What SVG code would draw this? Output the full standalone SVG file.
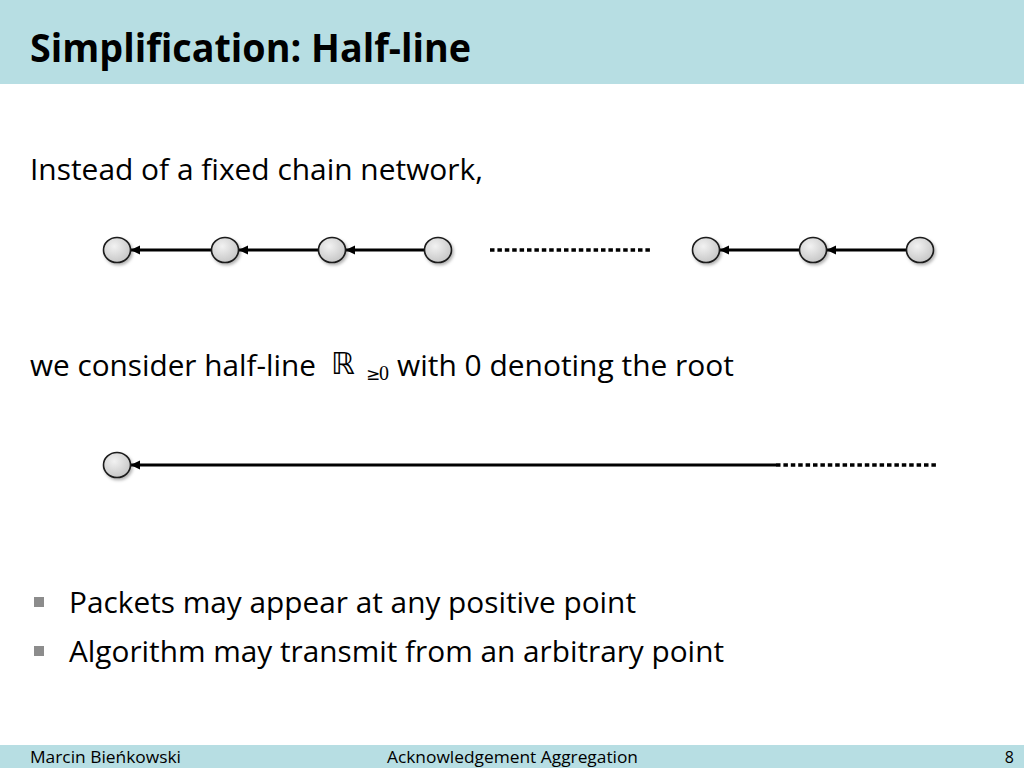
<svg xmlns="http://www.w3.org/2000/svg" width="1024" height="768" viewBox="0 0 1024 768">
<style>
.band{fill:#B7DEE3}
.title{font-family:"Open Sans","Liberation Sans",sans-serif;font-weight:bold;font-size:40px;fill:#000}
.body{font-family:"Open Sans","Liberation Sans",sans-serif;font-size:29px;fill:#000}
.foot{font-family:"Open Sans","Liberation Sans",sans-serif;font-size:16px;fill:#000}
.math{font-family:"DejaVu Sans","DejaVu Serif",serif;fill:#000}
.mathr{font-family:"Liberation Serif","DejaVu Serif",serif;fill:#000}
.node{fill:url(#g);stroke:#1a1a1a;stroke-width:1.6;filter:url(#sh)}
.edge{stroke:#000;stroke-width:3;fill:none;marker-end:url(#ah)}
.dots{stroke:#000;stroke-width:3.5;stroke-dasharray:4.5 2.9;fill:none}
.bullet{fill:#8c8c8c}
</style>
<defs>
<radialGradient id="g" cx="0.4" cy="0.35" r="0.7">
<stop offset="0" stop-color="#f2f2f2"/>
<stop offset="1" stop-color="#c4c4c4"/>
</radialGradient>
<filter id="sh" x="-30%" y="-30%" width="170%" height="170%">
<feDropShadow dx="1.5" dy="2" stdDeviation="1.5" flood-color="#000" flood-opacity="0.3"/>
</filter>
<marker id="ah" markerWidth="12" markerHeight="12" refX="9" refY="6" orient="auto" markerUnits="userSpaceOnUse">
<path d="M0,1.5 L9.5,6 L0,10.5 Z" fill="#000"/>
</marker>
</defs>
<rect class="band" x="0" y="0" width="1024" height="84"/>
<rect class="band" x="0" y="745" width="1024" height="23"/>
<text class="title" x="30" y="62" textLength="441" lengthAdjust="spacingAndGlyphs">Simplification: Half-line</text>
<text class="body" x="30" y="180" textLength="453" lengthAdjust="spacingAndGlyphs">Instead of a fixed chain network,</text>
<text class="body" x="30" y="376" textLength="286" lengthAdjust="spacingAndGlyphs">we consider half-line</text>
<text class="math" x="331" y="374" font-size="30">ℝ</text>
<text class="math" x="366" y="380" font-size="17">≥</text>
<text class="mathr" x="379" y="380" font-size="20">0</text>
<text class="body" x="397" y="376" textLength="337" lengthAdjust="spacingAndGlyphs">with 0 denoting the root</text>
<g id="connectors">
<line class="edge" x1="425" y1="250" x2="346" y2="250"/>
<line class="edge" x1="319" y1="250" x2="239" y2="250"/>
<line class="edge" x1="212" y1="250" x2="131" y2="250"/>
<line class="edge" x1="907" y1="250" x2="827" y2="250"/>
<line class="edge" x1="800" y1="250" x2="720" y2="250"/>
<line class="dots" x1="490" y1="250" x2="652" y2="250"/>
<line class="edge" x1="776" y1="465" x2="131" y2="465"/>
<line class="dots" x1="776" y1="465" x2="937" y2="465"/>
</g>
<g id="n1"><ellipse class="node" cx="117" cy="250" rx="13.5" ry="12.5"/></g>
<g id="n2"><ellipse class="node" cx="225" cy="250" rx="13.5" ry="12.5"/></g>
<g id="n3"><ellipse class="node" cx="332" cy="250" rx="13.5" ry="12.5"/></g>
<g id="n4"><ellipse class="node" cx="438" cy="250" rx="13.5" ry="12.5"/></g>
<g id="n5"><ellipse class="node" cx="706" cy="250" rx="13.5" ry="12.5"/></g>
<g id="n6"><ellipse class="node" cx="813" cy="250" rx="13.5" ry="12.5"/></g>
<g id="n7"><ellipse class="node" cx="920" cy="250" rx="13.5" ry="12.5"/></g>
<g id="root"><ellipse class="node" cx="117" cy="465" rx="13.5" ry="12.5"/></g>
<rect class="bullet" x="34" y="597" width="10" height="10"/>
<rect class="bullet" x="34" y="646" width="10" height="10"/>
<text class="body" x="69" y="613" textLength="567" lengthAdjust="spacingAndGlyphs">Packets may appear at any positive point</text>
<text class="body" x="69" y="662" textLength="655" lengthAdjust="spacingAndGlyphs">Algorithm may transmit from an arbitrary point</text>
<text class="foot" x="30" y="763" textLength="151" lengthAdjust="spacingAndGlyphs">Marcin Bieńkowski</text>
<text class="foot" x="387" y="763" textLength="251" lengthAdjust="spacingAndGlyphs">Acknowledgement Aggregation</text>
<text class="foot" x="1014" y="763" text-anchor="end">8</text>
</svg>
